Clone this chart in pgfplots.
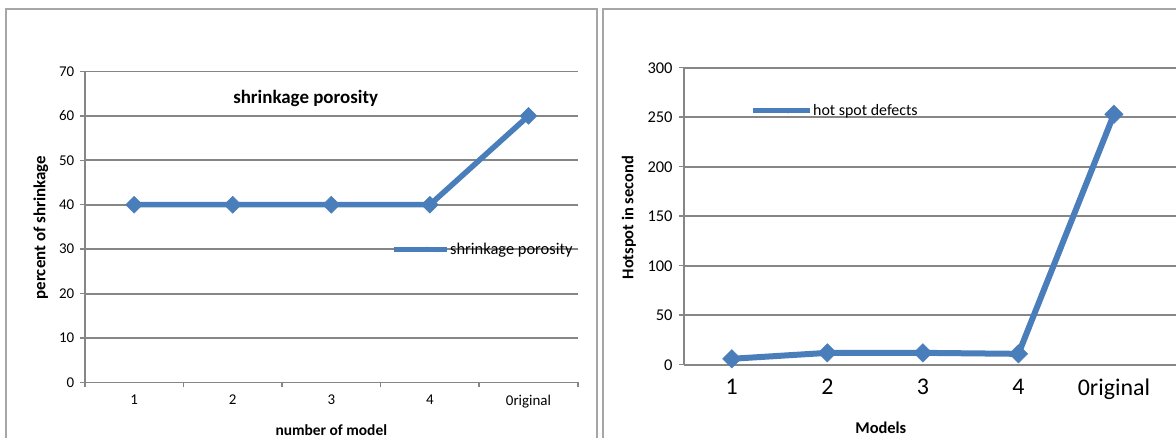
\documentclass[border=0pt]{standalone}
\usepackage{pgfplots}
\pgfplotsset{compat=1.18}
\usetikzlibrary{shapes.geometric}
\usepackage{fontspec}
\setmainfont{Carlito}
\definecolor{exblue}{HTML}{4A7EBB}
\definecolor{gridgray}{HTML}{868686}
\definecolor{bordergray}{HTML}{A6A6A6}
\pgfplotsset{
  excel/.style={
    scale only axis,
    axis lines*=left,
    axis line style={gridgray, line width=1.5bp},
    ymajorgrids,
    major grid style={gridgray, line width=1.8bp},
    tick align=outside,
    tick style={gridgray, line width=1.5bp},
    /pgf/number format/assume math mode=true,
    xtick={1,2,3,4,5},
    xticklabels={1,2,3,4,0riginal},
    xmin=0.5,
    legend cell align=left,
  }
}
\begin{document}
\begin{tikzpicture}[x=1bp,y=1bp]
\useasboundingbox (0,0) rectangle (1176,438);
\fill[white] (0,0) rectangle (1176,438);
\draw[bordergray, line width=1.5bp] (6,-2) -- (6,429) -- (597,429) -- (597,-2);
\draw[bordergray, line width=1.5bp] (603,-2) -- (603,429) -- (1180,429);

% Left chart
\begin{axis}[excel,
  at={(86,125)}, anchor=south west,
  width=493bp, height=311bp,
  xmax=5.5, ymin=0, ymax=70,
  ytick={0,10,...,70},
  major tick length=5bp,
  major x tick style={draw=none},
  minor xtick={0.5,1.5,...,5.5},
  minor tick length=5bp,
  every tick label/.append style={font=\fontsize{15}{17}\selectfont},
  yticklabel style={xshift=-2bp},
  xticklabel style={yshift=-4bp},
  title={shrinkage porosity},
  title style={at={(axis description cs:0.448,0.894)}, anchor=center, font=\bfseries\fontsize{19}{22}\selectfont},
  xlabel={number of model},
  xlabel style={at={(axis description cs:0.5,-0.152)}, anchor=center, font=\bfseries\fontsize{15.5}{18}\selectfont},
  ylabel={percent of shrinkage},
  ylabel style={at={(axis description cs:-0.089,0.498)}, anchor=center, font=\bfseries\fontsize{17}{19}\selectfont},
  legend style={at={(axis description cs:0.621,0.428)}, anchor=west, draw=none, fill=none,
    inner sep=0pt, font=\fontsize{16.5}{19}\selectfont, nodes={inner sep=1bp}},
  legend image code/.code={\draw[exblue, line width=5bp] (0bp,0bp) -- (53bp,0bp);
     \node[diamond, fill=exblue, inner sep=1.6bp] at (26.5bp,0bp) {};},
]
\addplot[exblue, line width=5.5bp, mark=square*, mark size=6bp,
  mark options={rotate=45, solid, line width=0.5bp, fill=exblue}]
  coordinates {(1,40) (2,40) (3,40) (4,40) (5,60)};
\addlegendentry{shrinkage porosity}
\end{axis}

% Right chart
\begin{axis}[excel,
  at={(716,74)}, anchor=south west,
  width=492bp, height=297bp,
  xmax=5.65, ymin=0, ymax=300,
  ytick={0,50,...,300},
  major tick length=5bp,
  major x tick style={draw=none},
  x axis line style={draw=none},
  yticklabel style={font=\fontsize{16.5}{18}\selectfont, xshift=-3bp},
  xticklabel style={font=\fontsize{24}{27}\selectfont, yshift=-6bp},
  xlabel={Models},
  xlabel style={at={(axis description cs:0.4,-0.212)}, anchor=center, font=\bfseries\fontsize{16.5}{19}\selectfont},
  ylabel={Hotspot in second},
  ylabel style={at={(axis description cs:-0.112,0.495)}, anchor=center, font=\bfseries\fontsize{16.5}{19}\selectfont},
  legend style={at={(axis description cs:0.134,0.855)}, anchor=west, draw=none, fill=none,
    inner sep=0pt, font=\fontsize{16}{19}\selectfont, nodes={inner sep=1bp}},
  legend image code/.code={\draw[exblue, line width=5bp] (0bp,0bp) -- (57bp,0bp);
     \node[diamond, fill=exblue, inner sep=1.6bp] at (28.5bp,0bp) {};},
]
\addplot[exblue, line width=6bp, mark=square*, mark size=6.5bp,
  mark options={rotate=45, solid, line width=0.5bp, fill=exblue}]
  coordinates {(1,6) (2,12) (3,12) (4,11) (5,253)};
\addlegendentry{hot spot defects}
\end{axis}
\end{tikzpicture}
\end{document}
